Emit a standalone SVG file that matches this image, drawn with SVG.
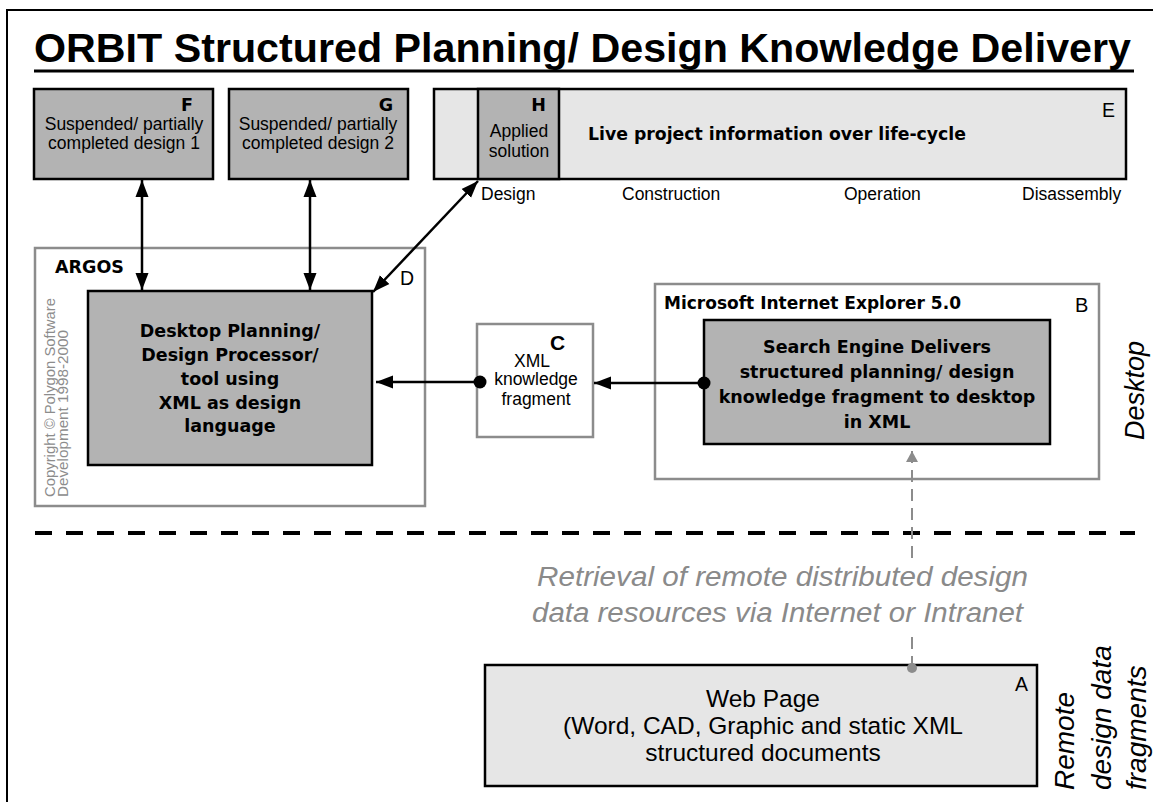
<svg xmlns="http://www.w3.org/2000/svg" width="1153" height="802" viewBox="0 0 1153 802">
<defs>
<style>
.t{font-family:"Liberation Sans",Arial,sans-serif;fill:#000}
.b{font-family:"DejaVu Sans",Verdana,sans-serif;font-weight:bold;fill:#000;font-size:17.5px}
.r{font-family:"Liberation Sans",Arial,sans-serif;font-size:17.5px;fill:#000}
.dark{fill:#b3b3b3;stroke:#000;stroke-width:2.5}
.light{fill:#e6e6e6;stroke:#000;stroke-width:2.5}
.grayframe{fill:#fff;stroke:#8c8c8c;stroke-width:2.5}
.conn{fill:none;stroke:#000;stroke-width:2.5}
.gconn{fill:none;stroke:#8c8c8c;stroke-width:2;stroke-dasharray:12 7}
.mid{text-anchor:middle}
.end{text-anchor:end}
</style>
<marker id="ah" markerUnits="userSpaceOnUse" markerWidth="18" markerHeight="14" refX="17" refY="7" orient="auto-start-reverse"><path d="M0,0.5 L17,7 L0,13.5 z" fill="#000"/></marker>
<marker id="ahg" markerUnits="userSpaceOnUse" markerWidth="12" markerHeight="14" refX="11" refY="7" orient="auto-start-reverse"><path d="M0,1 L11,7 L0,13 z" fill="#8c8c8c"/></marker>
<marker id="dot" markerUnits="userSpaceOnUse" markerWidth="14" markerHeight="14" refX="7" refY="7"><circle cx="7" cy="7" r="6.5" fill="#000"/></marker>
<marker id="dotg" markerUnits="userSpaceOnUse" markerWidth="12" markerHeight="12" refX="6" refY="6"><circle cx="6" cy="6" r="5" fill="#8c8c8c"/></marker>
</defs>
<rect x="0" y="0" width="1153" height="802" fill="#fff"/>
<path d="M7,802 V10 H1153" fill="none" stroke="#000" stroke-width="2"/>

<g id="title">
<text class="t" x="34" y="62" font-size="41" font-weight="bold" textLength="1097" lengthAdjust="spacingAndGlyphs">ORBIT Structured Planning/ Design Knowledge Delivery</text>
<line x1="34" y1="71" x2="1134" y2="71" stroke="#000" stroke-width="3"/>
</g>

<g id="node-F">
<rect class="dark" x="34" y="89" width="179" height="90"/>
<text class="b end" x="193" y="111" font-size="15">F</text>
<text class="r mid" x="124" y="130">Suspended/ partially</text>
<text class="r mid" x="124" y="149">completed design 1</text>
</g>

<g id="node-G">
<rect class="dark" x="229" y="89" width="179" height="90"/>
<text class="b end" x="393" y="111" font-size="15">G</text>
<text class="r mid" x="318" y="130">Suspended/ partially</text>
<text class="r mid" x="318" y="149">completed design 2</text>
</g>

<g id="node-E">
<rect class="light" x="434" y="89" width="692" height="90"/>
<text class="b" x="588" y="140" textLength="378" lengthAdjust="spacingAndGlyphs">Live project information over life-cycle</text>
<text class="t end" x="1115" y="117" font-size="19.5">E</text>
<text class="r" x="481" y="200">Design</text>
<text class="r" x="622" y="200">Construction</text>
<text class="r" x="844" y="200">Operation</text>
<text class="r" x="1022" y="200">Disassembly</text>
</g>

<g id="node-H">
<rect class="dark" x="478" y="89" width="81" height="90"/>
<text class="b end" x="546" y="111" font-size="15">H</text>
<text class="r mid" x="519" y="137">Applied</text>
<text class="r mid" x="519" y="157">solution</text>
</g>

<g id="node-D">
<rect class="grayframe" x="35" y="248" width="390" height="258"/>
<text class="b" x="55" y="273">ARGOS</text>
<text class="t" x="400" y="285" font-size="19.5">D</text>
<text class="t" transform="translate(55,497) rotate(-90)" font-size="14" fill="#8c8c8c" style="fill:#8c8c8c" textLength="199" lengthAdjust="spacingAndGlyphs">Copyright © Polygon Software</text>
<text class="t" transform="translate(68,497) rotate(-90)" font-size="14" style="fill:#8c8c8c" textLength="167" lengthAdjust="spacingAndGlyphs">Development 1998-2000</text>
<rect class="dark" x="88" y="291" width="284" height="174"/>
<text class="b mid" x="230" y="337">Desktop Planning/</text>
<text class="b mid" x="230" y="361">Design Processor/</text>
<text class="b mid" x="230" y="385">tool using</text>
<text class="b mid" x="230" y="409">XML as design</text>
<text class="b mid" x="230" y="432">language</text>
</g>

<g id="node-C">
<rect class="grayframe" x="477" y="324" width="116" height="113"/>
<text class="t" x="550" y="350" font-size="21" font-weight="bold">C</text>
<text class="r mid" x="532" y="367">XML</text>
<text class="r mid" x="536" y="385">knowledge</text>
<text class="r mid" x="536" y="405">fragment</text>
</g>

<g id="node-B">
<rect class="grayframe" x="655" y="284" width="444" height="195"/>
<text class="b" x="664" y="309" textLength="297" lengthAdjust="spacingAndGlyphs">Microsoft Internet Explorer 5.0</text>
<text class="t" x="1075" y="312" font-size="20">B</text>
<rect class="dark" x="704" y="320" width="346" height="124"/>
<text class="b mid" x="877" y="353">Search Engine Delivers</text>
<text class="b mid" x="877" y="378">structured planning/ design</text>
<text class="b mid" x="877" y="403">knowledge fragment to desktop</text>
<text class="b mid" x="877" y="428">in XML</text>
</g>

<g id="label-desktop">
<text class="t" transform="translate(1144,440) rotate(-90)" font-size="27" font-style="italic">Desktop</text>
</g>

<g id="separator">
<line x1="35" y1="533" x2="1135" y2="533" stroke="#000" stroke-width="4" stroke-dasharray="17 14"/>
</g>

<g id="label-retrieval">
<text class="t" x="537" y="586" font-size="27" font-style="italic" style="fill:#8a8a8a" textLength="491" lengthAdjust="spacingAndGlyphs">Retrieval of remote distributed design</text>
<text class="t" x="532" y="622" font-size="27" font-style="italic" style="fill:#8a8a8a" textLength="491" lengthAdjust="spacingAndGlyphs">data resources via Internet or Intranet</text>
</g>

<g id="node-A">
<rect class="light" x="485" y="665" width="552" height="121"/>
<text class="t end" x="1028" y="691" font-size="19.5">A</text>
<text class="t mid" x="763" y="707" font-size="24.5">Web Page</text>
<text class="t mid" x="763" y="734" font-size="24.5">(Word, CAD, Graphic and static XML</text>
<text class="t mid" x="763" y="761" font-size="24.5">structured documents</text>
</g>

<g id="label-remote">
<text class="t" transform="translate(1074,790) rotate(-90)" font-size="28" font-style="italic">Remote</text>
<text class="t" transform="translate(1111,790) rotate(-90)" font-size="28" font-style="italic">design data</text>
<text class="t" transform="translate(1146,790) rotate(-90)" font-size="28" font-style="italic">fragments</text>
</g>

<g id="connectors">
<line class="conn" x1="142" y1="180" x2="142" y2="290" marker-start="url(#ah)" marker-end="url(#ah)"/>
<line class="conn" x1="310" y1="180" x2="310" y2="290" marker-start="url(#ah)" marker-end="url(#ah)"/>
<line class="conn" x1="478" y1="181" x2="373" y2="292" marker-start="url(#ah)" marker-end="url(#ah)"/>
<path class="conn" d="M480,382 H376" marker-start="url(#dot)" marker-end="url(#ah)"/>
<path class="conn" d="M704,383 H594" marker-start="url(#dot)" marker-end="url(#ah)"/>
<path class="gconn" d="M912,668 V633 M912,558 V451" marker-start="url(#dotg)" marker-end="url(#ahg)"/>
</g>
</svg>
